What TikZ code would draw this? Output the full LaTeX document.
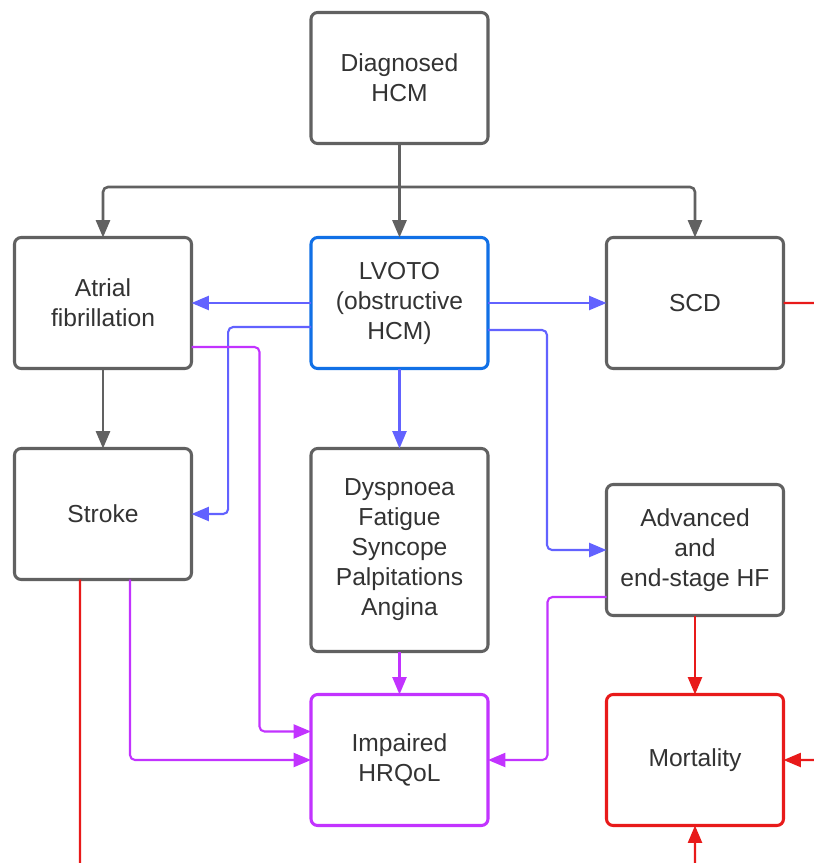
\documentclass[tikz,border=0pt]{standalone}
\usepackage{fontspec}
\setmainfont{Liberation Sans}
\usetikzlibrary{arrows.meta,positioning}
\definecolor{boxgray}{HTML}{616161}
\definecolor{txtgray}{HTML}{333333}
\definecolor{hcmblue}{HTML}{1170E6}
\definecolor{violet}{HTML}{6262FF}
\definecolor{qolpurple}{HTML}{C233FF}
\definecolor{deathred}{HTML}{E81A1A}
\tikzset{
  box/.style={draw=boxgray, line width=2.6pt, rounded corners=0.2cm, fill=white, outer sep=0pt,
    minimum width=5.31cm, minimum height=3.93cm, align=center, text=txtgray,
    font=\fontsize{21}{25.6}\selectfont},
  link/.style={line width=1.8pt, rounded corners=0.15cm, -{Triangle[length=0.52cm,width=0.42cm]}},
  gline/.style={link, draw=boxgray, line width=2.2pt},
  vline/.style={link, draw=violet},
  pline/.style={link, draw=qolpurple},
  rline/.style={link, draw=deathred},
  node distance=2.4cm
}
\begin{document}
\begin{tikzpicture}
\useasboundingbox (0,0) rectangle (24.42,-25.89);
\clip (0,0) rectangle (24.42,-25.89);

\node[box] (diag) at (11.985,-2.34) {Diagnosed\\HCM};
\node[box, draw=hcmblue, below=2.82cm of diag] (lvoto) {LVOTO\\(obstructive\\HCM)};
\node[box, left=3.585cm of lvoto] (af) {Atrial\\fibrillation};
\node[box, right=3.555cm of lvoto] (scd) {SCD};
\node[box, below=of af] (stroke) {Stroke};
\node[box, below=of lvoto, minimum height=6.09cm] (dysp) {Dyspnoea\\Fatigue\\Syncope\\Palpitations\\Angina};
\node[box, below=3.48cm of scd] (adv) {Advanced\\and\\end-stage HF};
\node[box, draw=qolpurple, below=1.29cm of dysp] (imp) {Impaired\\HRQoL};
\node[box, draw=deathred, below=2.37cm of adv] (mort) {Mortality};

\coordinate (split) at ([yshift=-1.305cm]diag.south);
\draw[gline] (diag) -- (lvoto);
\draw[gline] (split) -| (af);
\draw[gline] (split) -| (scd);
\draw[gline] (af) -- (stroke);

\draw[vline] (lvoto.west) -- (af.east);
\draw[vline] (lvoto.east) -- (scd.west);
\draw[vline] (lvoto) -- (dysp);
\draw[vline] ([yshift=-0.72cm]lvoto.west) -| ([xshift=1.1cm]stroke.east) -- (stroke.east);
\draw[vline] ([yshift=-0.81cm]lvoto.east) -| ([xshift=-1.785cm]adv.west) -- (adv.west);

\draw[pline] ([yshift=-1.32cm]af.east) -| ([xshift=-1.545cm,yshift=0.855cm]imp.west) -- ([yshift=0.855cm]imp.west);
\draw[pline] ([xshift=0.81cm]stroke.south) |- (imp.west);
\draw[pline] (dysp) -- (imp);
\draw[pline] ([yshift=-1.41cm]adv.west) -| ([xshift=1.785cm]imp.east) -- (imp.east);

\coordinate (lowleft) at ([xshift=-0.69cm,yshift=-8.65cm]stroke.south);
\draw[rline] (adv) -- (mort);
\draw[rline] (scd.east) -- ++(1.2cm,0) |- (mort.east);
\draw[rline] ([xshift=-0.69cm]stroke.south) -- (lowleft) -| (mort.south);
\end{tikzpicture}
\end{document}
